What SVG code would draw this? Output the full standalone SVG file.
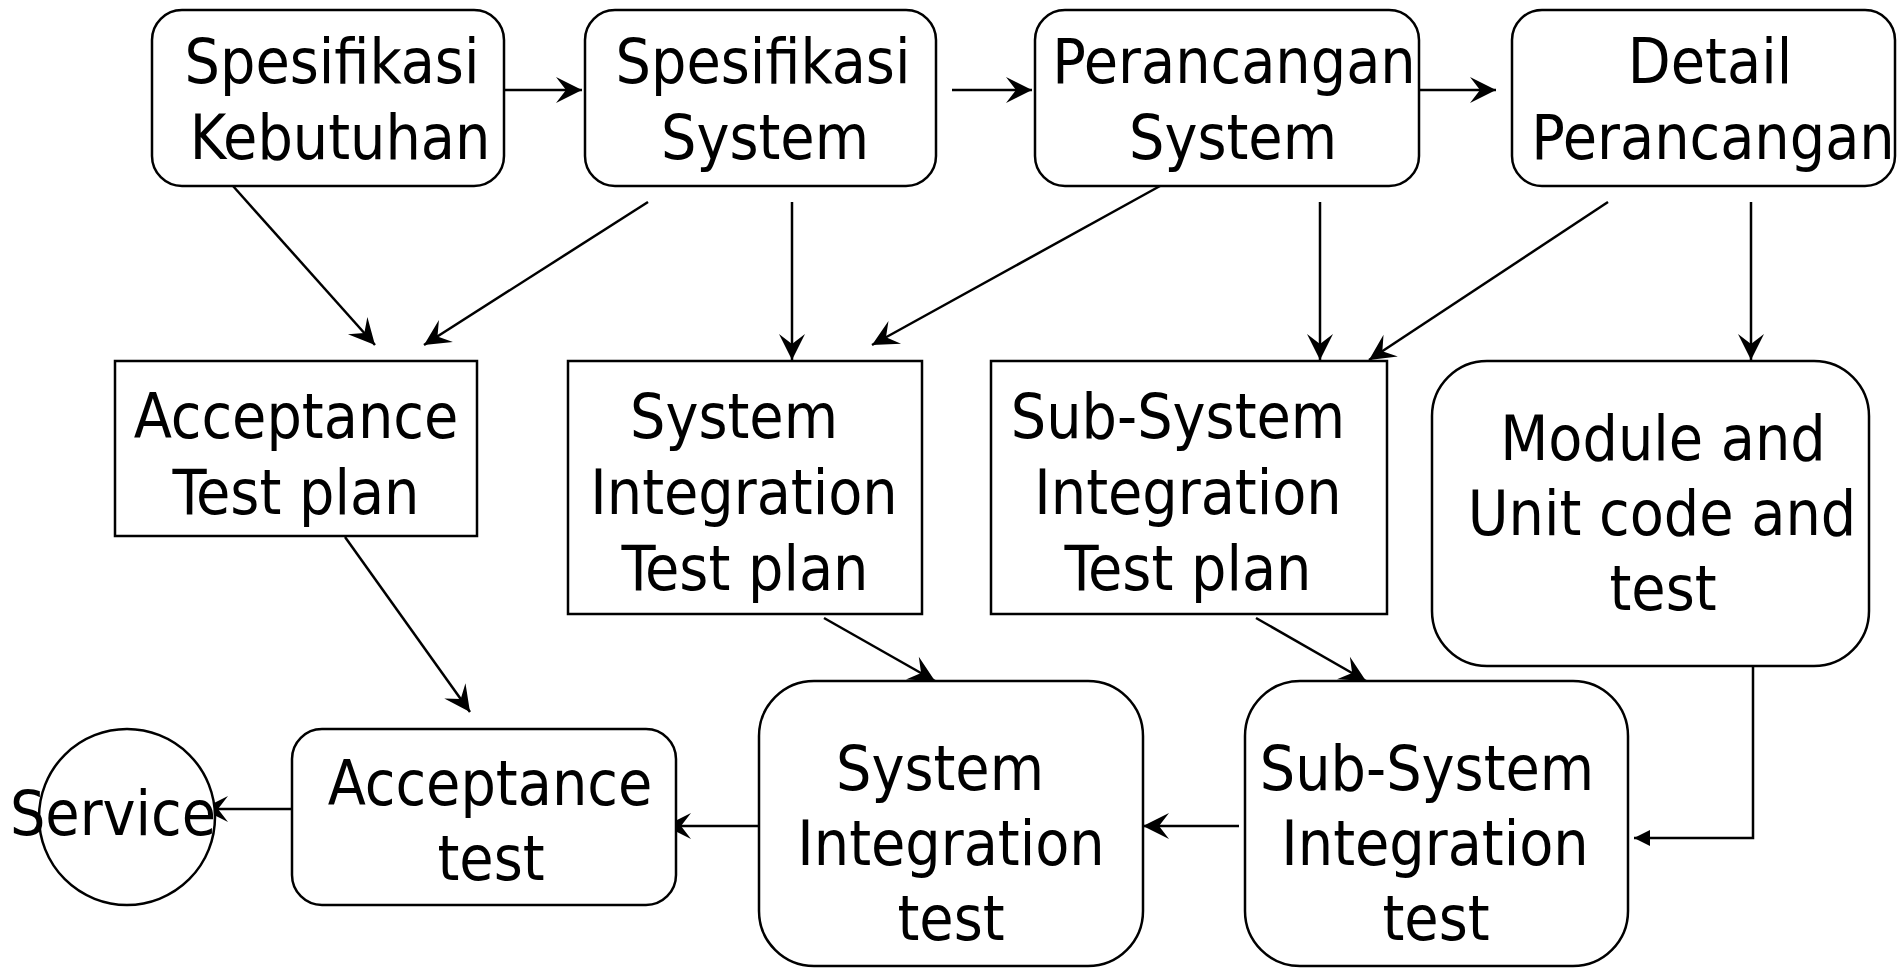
<svg xmlns="http://www.w3.org/2000/svg" width="1899" height="968" viewBox="0 0 1899 968">
<style>
.box{fill:#fff;stroke:#000;stroke-width:2.5}
.t{font-family:'DejaVu Sans Condensed','DejaVu Sans',sans-serif;font-stretch:condensed;font-size:62px;fill:#000;text-anchor:middle}
.c{fill:none;stroke:#000;stroke-width:2.5}
</style>
<defs>
<marker id="ah" markerUnits="userSpaceOnUse" viewBox="-28 -15 30 30" markerWidth="30" markerHeight="30" refX="0" refY="0" orient="auto">
<path d="M0,0 L-26,-13 L-16,0 L-26,13 Z" fill="#000"/>
</marker>
<marker id="tri" markerUnits="userSpaceOnUse" viewBox="-18 -10 20 20" markerWidth="20" markerHeight="20" refX="0" refY="0" orient="auto">
<path d="M0,0 L-16,-8 L-16,8 Z" fill="#000"/>
</marker>
</defs>
<rect width="1899" height="968" fill="#fff"/>
<g id="connectors">
<line class="c" x1="504" y1="90" x2="582" y2="90" marker-end="url(#ah)"/>
<line class="c" x1="952" y1="90" x2="1032" y2="90" marker-end="url(#ah)"/>
<line class="c" x1="1419" y1="90" x2="1496" y2="90" marker-end="url(#ah)"/>
<line class="c" x1="233" y1="186" x2="375" y2="345" marker-end="url(#ah)"/>
<line class="c" x1="648" y1="202" x2="424" y2="345" marker-end="url(#ah)"/>
<line class="c" x1="792" y1="202" x2="792" y2="360" marker-end="url(#ah)"/>
<line class="c" x1="1160" y1="186" x2="872" y2="345" marker-end="url(#ah)"/>
<line class="c" x1="1320" y1="202" x2="1320" y2="360" marker-end="url(#ah)"/>
<line class="c" x1="1608" y1="202" x2="1369" y2="360" marker-end="url(#ah)"/>
<line class="c" x1="1751" y1="202" x2="1751" y2="360" marker-end="url(#ah)"/>
<line class="c" x1="345" y1="537" x2="470" y2="712" marker-end="url(#ah)"/>
<line class="c" x1="824" y1="618" x2="935" y2="681" marker-end="url(#ah)"/>
<line class="c" x1="1256" y1="618" x2="1366" y2="681" marker-end="url(#ah)"/>
<polyline class="c" points="1753,666 1753,838 1634,838" marker-end="url(#tri)"/>
<line class="c" x1="1239" y1="826" x2="1143" y2="826" marker-end="url(#ah)"/>
<line class="c" x1="759" y1="826" x2="665" y2="826" marker-end="url(#ah)"/>
<line class="c" x1="294" y1="809" x2="202" y2="809" marker-end="url(#ah)"/>
</g>
<g id="spesifikasi-kebutuhan">
<rect class="box" x="152" y="10" width="352" height="176" rx="30"/>
<text class="t" x="332" y="83">Spesifikasi</text>
<text class="t" x="340" y="159">Kebutuhan</text>
</g>
<g id="spesifikasi-system">
<rect class="box" x="585" y="10" width="351" height="176" rx="30"/>
<text class="t" x="763" y="83">Spesifikasi</text>
<text class="t" x="765" y="159">System</text>
</g>
<g id="perancangan-system">
<rect class="box" x="1035" y="10" width="384" height="176" rx="30"/>
<text class="t" x="1234" y="83">Perancangan</text>
<text class="t" x="1233" y="159">System</text>
</g>
<g id="detail-perancangan">
<rect class="box" x="1512" y="10" width="383" height="176" rx="30"/>
<text class="t" x="1710" y="83">Detail</text>
<text class="t" x="1713" y="159">Perancangan</text>
</g>
<g id="acceptance-test-plan">
<rect class="box" x="115" y="361" width="362" height="175"/>
<text class="t" x="296" y="438">Acceptance</text>
<text class="t" x="296" y="514">Test plan</text>
</g>
<g id="system-integration-test-plan">
<rect class="box" x="568" y="361" width="354" height="253"/>
<text class="t" x="734" y="438">System</text>
<text class="t" x="744" y="514">Integration</text>
<text class="t" x="745" y="590">Test plan</text>
</g>
<g id="sub-system-integration-test-plan">
<rect class="box" x="991" y="361" width="396" height="253"/>
<text class="t" x="1178" y="438">Sub-System</text>
<text class="t" x="1188" y="514">Integration</text>
<text class="t" x="1188" y="590">Test plan</text>
</g>
<g id="module-unit">
<rect class="box" x="1432" y="361" width="437" height="305" rx="55"/>
<text class="t" x="1663" y="460">Module and</text>
<text class="t" x="1662" y="535">Unit code and</text>
<text class="t" x="1663" y="610">test</text>
</g>
<g id="service">
<ellipse class="box" cx="127" cy="817" rx="88" ry="88"/>
<text class="t" x="113" y="835">Service</text>
</g>
<g id="acceptance-test">
<rect class="box" x="292" y="729" width="384" height="176" rx="30"/>
<text class="t" x="490" y="805">Acceptance</text>
<text class="t" x="491" y="880">test</text>
</g>
<g id="system-integration-test">
<rect class="box" x="759" y="681" width="384" height="285" rx="55"/>
<text class="t" x="940" y="790">System</text>
<text class="t" x="951" y="865">Integration</text>
<text class="t" x="951" y="940">test</text>
</g>
<g id="sub-system-integration-test">
<rect class="box" x="1245" y="681" width="383" height="285" rx="55"/>
<text class="t" x="1427" y="790">Sub-System</text>
<text class="t" x="1435" y="865">Integration</text>
<text class="t" x="1436" y="940">test</text>
</g>
</svg>
